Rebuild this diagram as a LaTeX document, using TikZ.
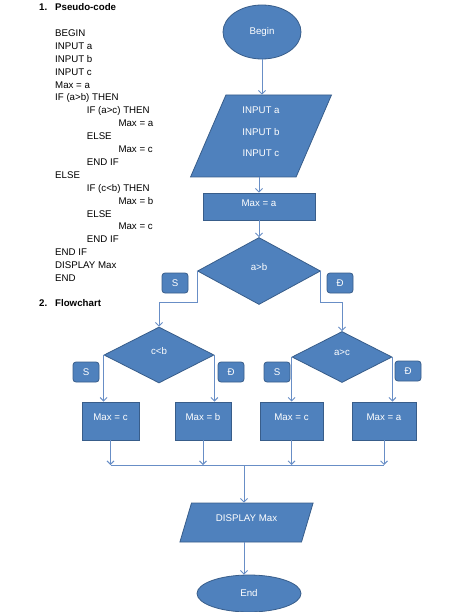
\documentclass[tikz,border=0pt]{standalone}
\usepackage{fontspec}
\setmainfont{Liberation Sans}
\usetikzlibrary{positioning,arrows.meta,shapes.geometric,calc}
\definecolor{boxblue}{RGB}{79,129,189}
\definecolor{boxedge}{RGB}{56,93,138}
\definecolor{wireblue}{RGB}{104,142,198}
\tikzset{
    flow/.style = {
        draw=boxedge,
        fill=boxblue,
        text=white,
        line width=0.8pt,
        inner sep=0pt
    },
    terminal/.style = {
        flow,
        shape=ellipse
    },
    block/.style = {
        flow,
        shape=rectangle,
        text depth=7.5pt,
        minimum height=38pt
    },
    decision/.style = {
        flow,
        shape=diamond,
        text depth=8pt
    },
    io/.style = {
        flow,
        shape=trapezium,
        text depth=8pt,
        trapezium stretches=true
    },
    tag/.style = {
        flow,
        shape=rectangle,
        rounded corners=3pt,
        minimum width=26pt,
        minimum height=20pt
    },
    heading/.style = {
        anchor=west,
        inner sep=0pt,
        font=\fontsize{9.7}{11}\selectfont\bfseries
    },
    wire/.style = {
        draw=wireblue,
        line width=0.9pt
    },
    >={Straight Barb[length=3.5pt,width=7pt]},
}

\begin{document}
\begin{tikzpicture}[x=1pt, y=-1pt, font=\fontsize{9.7}{11.6}\selectfont]
    \useasboundingbox (0,0) rectangle (460,612);

    % pseudo-code
    \node[heading] (head1) at (39,7) {\makebox[16pt][l]{1.}Pseudo-code};
    \node[anchor=north west, inner sep=0pt, align=left,
          font=\fontsize{9.7}{12.9}\selectfont] (code) at (55,29.5) {%
        BEGIN\\
        INPUT a\\
        INPUT b\\
        INPUT c\\
        Max = a\\
        IF (a>b) THEN\\
        \hspace*{31.7pt}IF (a>c) THEN\\
        \hspace*{63.3pt}Max = a\\
        \hspace*{31.7pt}ELSE\\
        \hspace*{63.3pt}Max = c\\
        \hspace*{31.7pt}END IF\\
        ELSE\\
        \hspace*{31.7pt}IF (c<b) THEN\\
        \hspace*{63.3pt}Max = b\\
        \hspace*{31.7pt}ELSE\\
        \hspace*{63.3pt}Max = c\\
        \hspace*{31.7pt}END IF\\
        END IF\\
        DISPLAY Max\\
        END};
    \node[heading] (head2) at (39,303) {\makebox[16pt][l]{2.}Flowchart};

    % flowchart
    \node[terminal, minimum width=78pt, minimum height=54pt] (start) at (262,32) {Begin};
    \node[io, trapezium left angle=72, trapezium right angle=108,
          minimum width=142pt, minimum height=82pt, align=center,
          font=\fontsize{9.7}{21.5}\selectfont] (input) at (261,136) {INPUT a\\INPUT b\\INPUT c};
    \node[block, minimum width=112pt, minimum height=27pt] (maxa) at (259,206.5) {Max = a};
    \node[decision, minimum width=123pt, minimum height=67pt] (ab) at (259,271) {a>b};
    \node[decision, minimum width=110pt, minimum height=56pt] (cb) at (159,355) {c<b};
    \node[decision, minimum width=100pt, minimum height=51pt] (ac) at (342,357) {a>c};

    \node[tag] (abno) at (175,283) {S};
    \node[tag] (abyes) at (340,283) {Đ};
    \node[tag] (cbno) at (86,372) {S};
    \node[tag] (cbyes) at (231,372) {Đ};
    \node[tag] (acno) at (277,372) {S};
    \node[tag] (acyes) at (408,371) {Đ};

    \node[block, minimum width=57pt] (maxc1) at (110.5,421) {Max = c};
    \node[block, minimum width=56pt] (maxb) at (203,421) {Max = b};
    \node[block, minimum width=63pt] (maxc2) at (291.5,421) {Max = c};
    \node[block, minimum width=64pt] (maxa2) at (384,421) {Max = a};

    \coordinate (merge) at (244,465);
    \node[io, trapezium left angle=66.4, trapezium right angle=113.6,
          minimum width=134pt, minimum height=39pt] (display) at (246.5,522.5) {DISPLAY Max};
    \node[terminal, minimum width=104pt, minimum height=37pt] (stop) at (249,593.5) {End};

    \path[draw, wire, ->] (start) -- (start |- input.north);
    \path[draw, wire, ->] (maxa |- input.south) -- (maxa);
    \path[draw, wire, ->] (maxa) -- (ab);
    \path[draw, wire, ->] (ab.west) -- ++(0,31) -| (cb.north);
    \path[draw, wire, ->] (ab.east) -- ++(0,31) -| (ac.north);

    \path[draw, wire, ->] (cb.west) -- (cb.west |- maxc1.north);
    \path[draw, wire, ->] (cb.east) -- (cb.east |- maxb.north);
    \path[draw, wire, ->] (ac.west) -- (ac.west |- maxc2.north);
    \path[draw, wire, ->] (ac.east) -- (ac.east |- maxa2.north);

    \path[draw, wire, ->] (maxc1) -- (maxc1 |- merge);
    \path[draw, wire, ->] (maxb) -- (maxb |- merge);
    \path[draw, wire, ->] (maxc2) -- (maxc2 |- merge);
    \path[draw, wire, ->] (maxa2) -- (maxa2 |- merge);
    \path[draw, wire] (maxc1 |- merge) -- (maxa2 |- merge);
    \path[draw, wire, ->] (merge) -- (merge |- display.north);
    \path[draw, wire, ->] (merge |- display.south) -- (merge |- stop.north);
\end{tikzpicture}
\end{document}
